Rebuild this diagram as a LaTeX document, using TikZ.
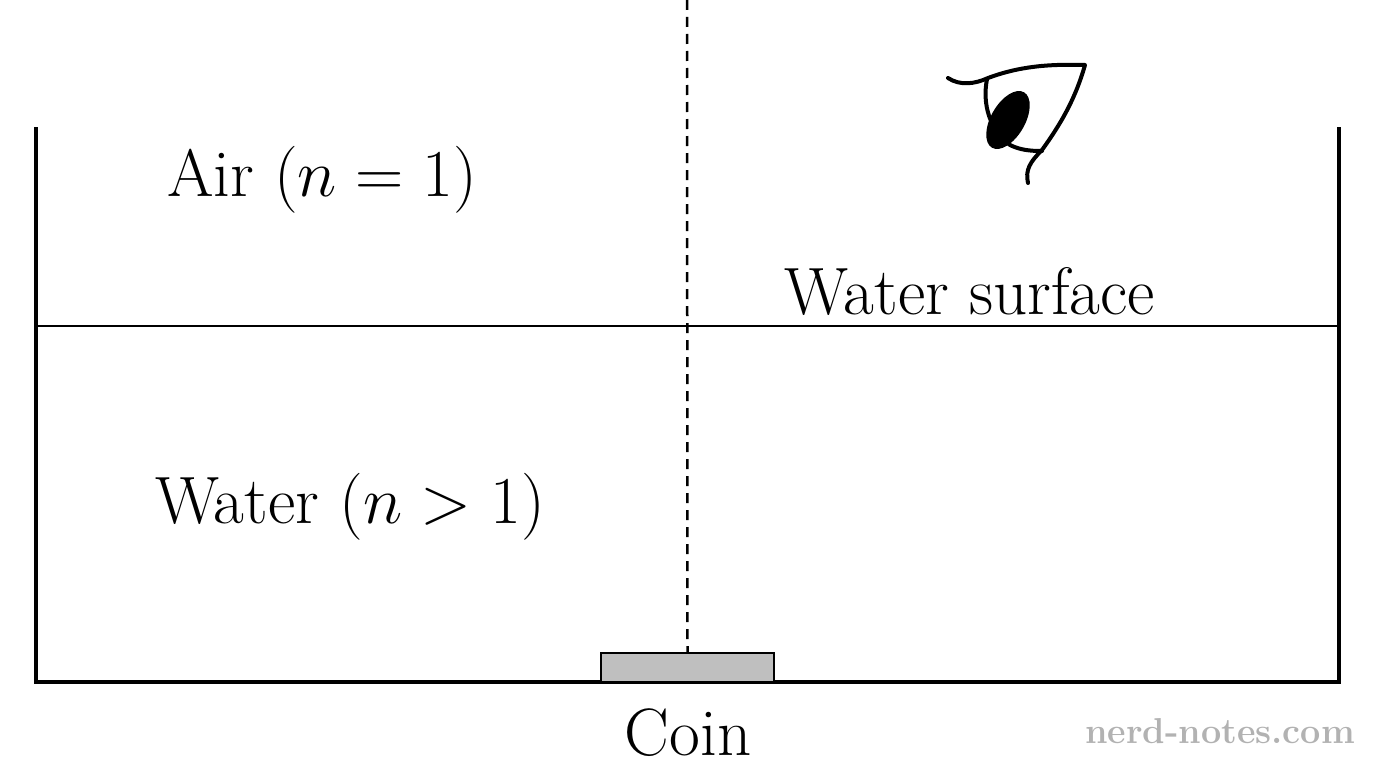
\RequirePackage{fix-cm}
\documentclass[tikz,border=0pt]{standalone}
\begin{document}
\begin{tikzpicture}[x=1pt,y=-1pt,
 lbl/.style={font=\fontsize{67}{80}\selectfont,inner sep=0pt}]
\useasboundingbox (0,0) rectangle (1376,768);
\draw[line width=4pt] (36,127) -- (36,682) -- (1339,682) -- (1339,127);
\draw[line width=2.5pt] (36,326) -- (1339,326);
\node[draw,line width=2.5pt,fill=black!25,minimum width=173pt,minimum height=29pt,inner sep=0pt] (coin) at (687.5,667.5) {};
\coordinate (top) at (687,0);
\draw[line width=2.5pt,dash pattern=on 10pt off 7pt] (top) -- (coin.north);
\node[lbl] (air) at (322,180) {Air ($n=1$)};
\node[lbl] (ws) at (970,292) {Water surface};
\node[lbl] (water) at (350,507) {Water ($n>1$)};
\node[lbl] (c) at (688,733) {Coin};
\node[font=\fontsize{36}{40}\selectfont\bfseries,text=black!30,inner sep=0pt] (wm) at (1220,731) {nerd-notes.com};
% eye
\draw[line width=4pt,line cap=round,line join=round]
 (948,78) .. controls (960,86) and (975,84) .. (988,78)
 .. controls (1020,66) and (1050,64) .. (1085,65)
 .. controls (1075,100) and (1060,125) .. (1042,150)
 .. controls (1030,162) and (1025,170) .. (1028,183);
\draw[line width=4pt,line cap=round]
 (987,79) .. controls (982,105) and (990,130) .. (1010,145)
 .. controls (1020,150) and (1030,151) .. (1042,151);
\fill[rotate around={60:(1008,120)}] (1008,120) ellipse (32pt and 17pt);
\end{tikzpicture}
\end{document}
